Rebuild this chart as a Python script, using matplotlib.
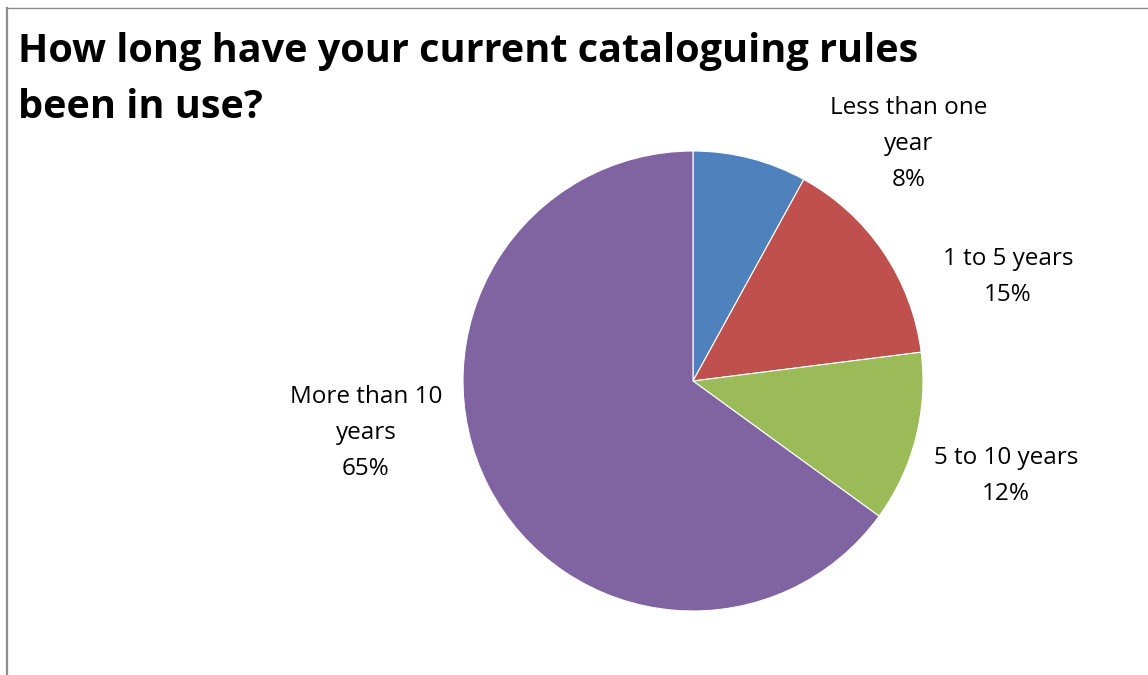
import matplotlib.pyplot as plt
from matplotlib.lines import Line2D

# survey answers, share of respondents in percent
categories = ["Less than one\nyear", "1 to 5 years", "5 to 10 years", "More than 10\nyears"]
shares = [8, 15, 12, 65]
colors = ["#4F81BD", "#C0504D", "#9BBB59", "#8064A2"]

title_lines = ["How long have your current cataloguing rules", "been in use?"]

W, H = 1148, 675
cx, cy, radius = 693, 381, 230  # pie centre / radius in pixels

plt.rcParams['font.family'] = ['Open Sans', 'DejaVu Sans']

fig = plt.figure(figsize=(W / 100, H / 100), dpi=100)
ax = fig.add_axes([0, 0, 1, 1])

wedges, _ = ax.pie(shares, colors=colors, startangle=90, counterclock=False,
                   wedgeprops=dict(edgecolor='white', linewidth=0.8))

ax.set_xlim(-cx / radius, (W - cx) / radius)
ax.set_ylim(-(H - cy) / radius, cy / radius)
ax.set_aspect('auto')
ax.axis('off')

# label centres relative to the pie centre, in radius units
label_pos = [(0.939, 1.030), (1.370, 0.452), (1.361, -0.413), (-1.422, -0.226)]
for name, share, (lx, ly) in zip(categories, shares, label_pos):
    ax.text(lx, ly, f"{name}\n{share}%", ha='center', va='center',
            fontsize=17.5, linespacing=1.66, color='black')

# title, one baseline per line
for line, base in zip(title_lines, [62, 118]):
    fig.text(18 / W, 1 - base / H, line, ha='left', va='baseline',
             fontsize=28.5, fontweight='bold')

# chart frame (left and top edges)
fig.add_artist(Line2D([7 / W, 7 / W], [0, 1 - 8 / H], transform=fig.transFigure,
                      color='#8c8c8c', linewidth=1.6))
fig.add_artist(Line2D([7 / W, 1], [1 - 8 / H, 1 - 8 / H], transform=fig.transFigure,
                      color='#8c8c8c', linewidth=1.0))

fig.savefig("out.png", dpi=100)
